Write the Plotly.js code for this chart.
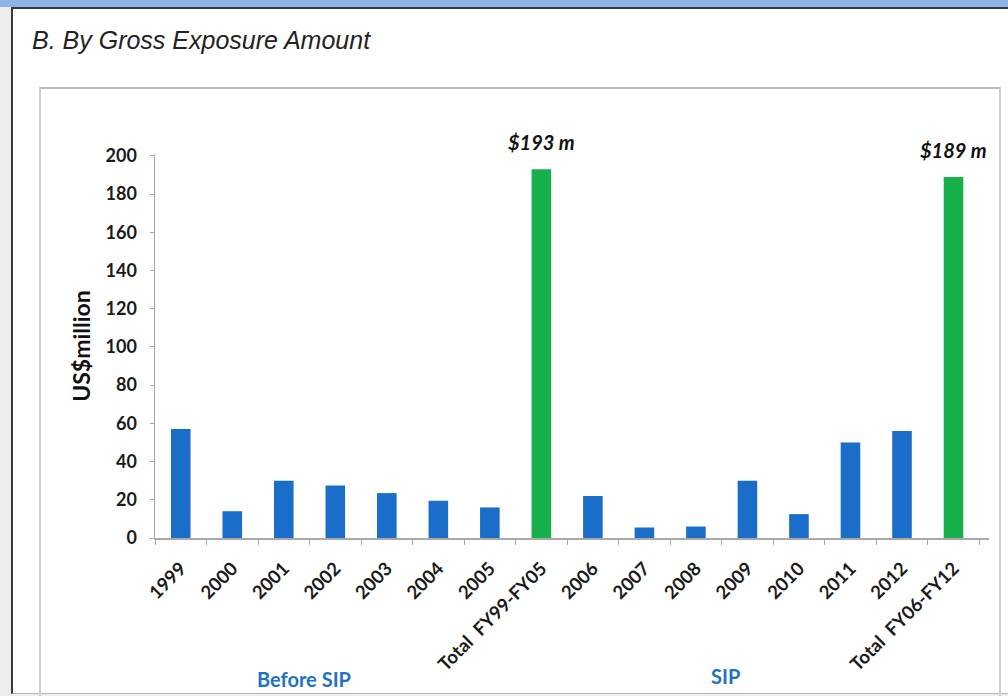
<!DOCTYPE html>
<html>
<head>
<meta charset="utf-8">
<script src="https://cdn.plot.ly/plotly-3.0.1.min.js"></script>
<style>
  html, body { margin: 0; padding: 0; width: 1008px; height: 696px; overflow: hidden; background: #ededed; }
  #band { position: absolute; left: 0; top: 0; width: 1008px; height: 7px; background: #8eb4e3; }
  #outer { position: absolute; left: 11px; top: 7px; width: 997px; height: 684px; background: #ffffff;
           border-left: 2px solid #3a3a3a; border-top: 2px solid #3a3a3a; border-bottom: 1px solid #b8b8b8; }
  #inner { position: absolute; left: 39px; top: 87px; width: 958px; height: 610px;
           border-left: 2px solid #d0d0d0; border-top: 2px solid #bcbcbc; border-right: 2px solid #d0d0d0; }
  #chart { position: absolute; left: 0; top: 0; width: 1008px; height: 696px; }
</style>
</head>
<body>
<div id="band"></div>
<div id="outer"></div>
<div id="inner"></div>
<div id="chart"></div>
<script>
const categories = ["1999","2000","2001","2002","2003","2004","2005","Total\u2002FY99-FY05",
                    "2006","2007","2008","2009","2010","2011","2012","Total\u2002FY06-FY12"];
const values = [57, 14, 30, 27.5, 23.5, 19.5, 16, 193, 22, 5.5, 6, 30, 12.5, 50, 56, 189];
const totalLabels = ["$193 m", "$189 m"];
const groupLabels = ["Before SIP", "SIP"];
const yTicks = [0, 20, 40, 60, 80, 100, 120, 140, 160, 180, 200];

const blue = "#1a6dc8";
const green = "#16b14b";
const barColors = categories.map(c => c.startsWith("Total") ? green : blue);
const totalCats = categories.filter(c => c.startsWith("Total"));
const totalVals = totalCats.map(c => values[categories.indexOf(c)]);

const fam = "Lato, 'Open Sans', sans-serif";

const trace = {
  type: "bar",
  x: categories,
  y: values,
  marker: { color: barColors, line: { width: 0 } },
  hoverinfo: "x+y"
};

const annotations = totalCats.map((c, i) => ({
  x: c, y: totalVals[i], xref: "x", yref: "y",
  text: "<b><i>" + totalLabels[i] + "</i></b>",
  showarrow: false, yanchor: "bottom", yshift: 13,
  font: { family: fam, size: 20, color: "#111" }
}));

annotations.push({
  x: (304 - 155) / 834, y: (538 - 679) / 384, xref: "paper", yref: "paper",
  text: "<b>" + groupLabels[0] + "</b>", showarrow: false, xanchor: "center", yanchor: "middle",
  font: { family: fam, size: 20, color: "#2272c3" }
});
annotations.push({
  x: (725 - 155) / 834, y: (538 - 676) / 384, xref: "paper", yref: "paper",
  text: "<b>" + groupLabels[1] + "</b>", showarrow: false, xanchor: "center", yanchor: "middle",
  font: { family: fam, size: 20, color: "#2272c3" }
});

const layout = {
  width: 1008, height: 696,
  margin: { l: 155, r: 19, t: 154, b: 158, pad: 0 },
  paper_bgcolor: "rgba(0,0,0,0)",
  plot_bgcolor: "rgba(0,0,0,0)",
  showlegend: false,
  bargap: 0.62,
  title: {
    text: "<i>B. By Gross Exposure Amount</i>",
    xref: "container", yref: "container",
    x: 32 / 1008, xanchor: "left",
    y: 1 - 40 / 696, yanchor: "middle",
    font: { family: "'Liberation Sans', Arial, sans-serif", size: 25, color: "#222" }
  },
  xaxis: {
    type: "category",
    tickangle: -45,
    tickfont: { family: fam, size: 18.5, color: "#1a1a1a", weight: 700 },
    showline: true, linecolor: "#a9a9a9", linewidth: 1.5,
    ticks: "outside", tickson: "boundaries", ticklen: 5, tickcolor: "#a9a9a9",
    ticklabelstandoff: 11,
    showgrid: false, zeroline: false,
    automargin: false
  },
  yaxis: {
    range: [0, 201],
    tickvals: yTicks,
    tickfont: { family: fam, size: 18, color: "#1a1a1a", weight: 700 },
    showline: true, linecolor: "#a9a9a9", linewidth: 1.5,
    ticks: "outside", ticklen: 4, tickcolor: "#a9a9a9",
    ticklabelstandoff: 9,
    showgrid: false, zeroline: false,
    automargin: false,
    title: { text: "<b>US$million</b>", font: { family: fam, size: 23, color: "#111" }, standoff: 8 }
  },
  annotations: annotations
};

Plotly.newPlot("chart", [trace], layout, { displayModeBar: false, staticPlot: true });
</script>
</body>
</html>
